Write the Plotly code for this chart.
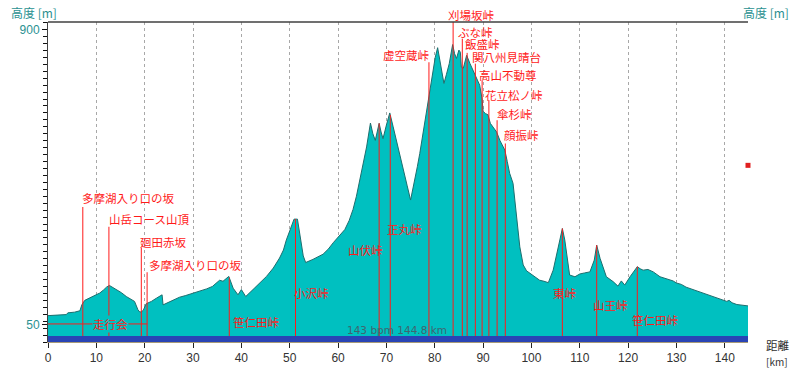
import numpy as np
import plotly.graph_objects as go

# ---- elevation profile (km, m) ----
dist_km = [0.0, 1.5, 3.0, 3.8, 4.1, 5.5, 6.6, 7.0, 7.6, 9.0, 10.0, 10.7, 11.5, 12.1, 12.7, 13.3,
           14.1, 15.2, 16.2, 17.2, 17.9, 18.6, 19.0, 19.4, 19.7, 20.3, 21.4, 22.4, 23.4, 23.6,
           23.8, 24.5, 25.8, 27.2, 28.5, 30.0, 31.5, 32.8, 34.0, 34.8, 35.5, 36.2, 36.8, 37.4,
           38.3, 39.3, 40.0, 40.5, 40.9, 42.4, 43.8, 45.2, 46.6, 47.9, 48.7, 49.3, 50.0, 50.6,
           50.9, 51.6, 52.2, 52.8, 53.3, 54.8, 56.9, 58.0, 59.0, 60.2, 61.4, 62.3,
           63.1, 63.8, 64.5, 65.2, 65.9, 66.7, 67.2, 67.7, 68.1, 68.5, 68.9, 69.3, 70.0, 70.7,
           71.4, 72.1, 72.8, 73.5, 74.3, 75.0, 75.5, 75.9, 76.4, 76.9, 77.4, 77.9, 78.4, 78.8,
           79.2, 79.7, 80.1, 80.6, 81.2, 81.9, 82.4, 83.0, 83.7, 84.1, 84.5, 85.0, 85.3, 85.5,
           85.9, 86.6, 87.3, 88.3, 89.3, 89.8, 90.0, 90.5, 91.0, 91.5, 92.1, 92.8, 93.5, 94.1,
           94.5, 95.0, 95.5, 96.2, 96.9, 97.6, 98.3, 99.0, 99.7, 100.7, 101.7, 102.6, 103.5,
           104.5, 105.7, 106.4, 106.9, 107.9, 109.0, 110.0, 111.0, 112.1, 113.0, 113.5, 114.2,
           115.5, 116.9, 117.9, 118.6, 119.3, 120.4, 121.9, 122.5, 123.1, 124.1, 125.2, 126.6,
           127.5, 128.6, 129.3, 130.0, 131.0, 132.0, 133.0, 134.2, 135.2, 136.2, 137.3, 138.3,
           139.4, 140.4, 140.9, 141.5, 142.5, 143.6, 144.8]
elev_m = [76, 77, 78, 79, 84, 86, 90, 107, 120, 129, 136, 141, 150, 158, 163, 158,
          151, 142, 131, 124, 117, 93, 86, 88, 91, 110, 117, 126, 133, 136,
          107, 112, 120, 129, 134, 141, 146, 153, 160, 170, 178, 175, 181, 189,
          155, 136, 151, 140, 131, 151, 170, 189, 213, 242, 265, 294, 320, 342,
          354, 354, 300, 248, 229, 238, 253, 268, 286, 305, 324, 350,
          382, 420, 466, 515, 562, 631, 600, 581, 605, 630, 605, 586, 625, 660,
          620, 581, 540, 495, 450, 409, 440, 466, 505, 543, 588, 630, 680, 716,
          750, 790, 820, 848, 800, 745, 770, 802, 857, 831, 817, 841, 835, 792,
          788, 826, 802, 773, 740, 700, 665, 658, 655, 630, 620, 605, 580, 562,
          553, 520, 486, 457, 370, 274, 222, 205, 198, 188, 178, 175, 171,
          207, 284, 327, 294, 193, 188, 196, 199, 202, 236, 279, 241,
          188, 174, 161, 176, 164, 188, 217, 211, 207, 209, 202, 188,
          184, 178, 176, 170, 166, 158, 153, 146, 141, 136, 131, 127,
          122, 117, 120, 113, 108, 106, 104]

# ---- named points (passes / slopes) ----
pt_names = ["多摩湖入り口の坂", "山岳コース山頂", "廻田赤坂", "多摩湖入り口の坂", "笹仁田峠",
            "小沢峠", "山伏峠", "正丸峠", "虚空蔵峠", "刈場坂峠", "ぶな峠", "飯盛峠",
            "関八州見晴台", "高山不動尊", "花立松ノ峠", "傘杉峠", "顔振峠",
            "東峠", "山王峠", "笹仁田峠"]
pt_km = [7.2, 12.6, 19.3, 20.5, 37.5, 51.2, 68.5, 70.8, 78.8, 83.8, 85.7, 86.7,
         88.4, 89.8, 91.2, 92.9, 94.6, 106.4, 113.5, 121.9]
# top of the marker line (m); None = up to the profile
pt_line_top = [389, 332, 271, 201, None, None, None, None, 806, 922, 874, 833,
               802, 754, 697, 639, 572, None, None, None]
# label placement (m) and anchoring
pt_label_y = [414, 353, 289, 222, 58, 140, 265, 327, 826, 943, 893, 860,
              821, 769, 711, 658, 596, 142, 107, 63]
pt_label_side = ["l", "l", "l", "l", "l", "l", "r", "l", "r", "l", "l", "l",
                 "l", "l", "l", "l", "l", "l", "l", "l"]
pt_label_dx = [-3, -2, -3, 0, 2, -4, 6, -5, 3, -7, -6, -4,
               -5, -5, -6, -2, -3, -11, -6, -7]

run_name = "走行会"
run_start_km, run_end_km, run_level_m = 0.0, 20.5, 52
run_label_km = 13.0
summary_text = "143 bpm 144.8 km"
summary_km, summary_m = 72.1, 34
hr_marker_m = 509
total_km = 144.8
y_top = 922

FILL = "#00c0c0"
RED = "#ff1a1a"
TEAL = "#2a9191"
FONT = "Noto Sans CJK JP"

PL, PR, PT, PB = 48.3, 748.0, 21.7, 342.0
def px(xp):
    return (xp - PL) / (PR - PL)
def py(yp):
    return (PB - yp) / (PB - PT)

fig = go.Figure()

fig.add_trace(go.Scatter(
    x=dist_km, y=elev_m, mode="lines", fill="tozeroy",
    fillcolor=FILL, line=dict(color="#1d6e6e", width=1), hoverinfo="skip",
    showlegend=False))

# marker lines
lx, ly = [], []
for k, top in zip(pt_km, pt_line_top):
    t = float(np.interp(k, dist_km, elev_m)) if top is None else top
    lx += [k, k, None]
    ly += [0, t, None]
lx += [run_start_km, run_end_km]
ly += [run_level_m, run_level_m]
fig.add_trace(go.Scatter(x=lx, y=ly, mode="lines", line=dict(color=RED, width=1),
                         hoverinfo="skip", showlegend=False, cliponaxis=False))

# heart-rate marker on right axis
fig.add_trace(go.Scatter(x=[total_km], y=[hr_marker_m], mode="markers",
                         marker=dict(symbol="square", size=5, color="#e02020"),
                         cliponaxis=False, hoverinfo="skip", showlegend=False))

ann = []
for name, k, yv, side, dx in zip(pt_names, pt_km, pt_label_y, pt_label_side, pt_label_dx):
    a = dict(x=k, xref="x", text=name, showarrow=False,
             xanchor="left" if side == "l" else "right", yanchor="middle",
             xshift=dx, font=dict(family=FONT, size=11.5, color=RED))
    if yv > y_top:
        a.update(yref="paper", y=yv / y_top)
    else:
        a.update(yref="y", y=yv)
    ann.append(a)
ann.append(dict(x=run_label_km, y=run_level_m, xref="x", yref="y",
                text=run_name, showarrow=False, bgcolor=FILL, borderpad=0,
                font=dict(family=FONT, size=11.5, color=RED)))
ann.append(dict(x=summary_km, y=summary_m, xref="x", yref="y", text=summary_text,
                showarrow=False,
                font=dict(family="DejaVu Sans", size=10.5, color="#3e6670")))

ann += [
    dict(x=px(9), y=py(12), xref="paper", yref="paper", text="高度 [m]", showarrow=False,
         xanchor="left", yanchor="middle", font=dict(family=FONT, size=12, color=TEAL)),
    dict(x=px(741), y=py(12), xref="paper", yref="paper", text="高度 [m]", showarrow=False,
         xanchor="left", yanchor="middle", font=dict(family=FONT, size=12, color=TEAL)),
    dict(x=px(765), y=py(345), xref="paper", yref="paper", text="距離", showarrow=False,
         xanchor="left", yanchor="middle", borderpad=0,
         font=dict(family=FONT, size=11.5, color="#303030")),
    dict(x=px(765), y=py(361.5), xref="paper", yref="paper", text="[km]", showarrow=False,
         xanchor="left", yanchor="middle", borderpad=0,
         font=dict(family=FONT, size=10, color="#303030")),
]

YR = [0, y_top]
minor_y = dict(tickmode="linear", tick0=0, dtick=20, ticks="outside", ticklen=4,
               tickcolor="#111111", showgrid=False)

fig.update_layout(
    width=800, height=368,
    margin=dict(l=48, r=52, t=22, b=26, autoexpand=False),
    paper_bgcolor="white", plot_bgcolor="white",
    showlegend=False,
    font=dict(family=FONT),
    xaxis=dict(range=[0, total_km], tickmode="linear", tick0=0, dtick=10,
               ticks="outside", ticklen=5, tickcolor="#222222",
               showgrid=True, gridcolor="#a8a8a8", griddash="dot", gridwidth=1,
               showline=True, linecolor="#a89a78", linewidth=1, zeroline=False,
               tickfont=dict(family="Liberation Sans", size=12, color="#333333")),
    yaxis=dict(range=YR, tickmode="array", tickvals=[50, 900], ticktext=["50", "900"],
               ticks="outside", ticklen=5, tickcolor="#111111", showgrid=False,
               showline=True, linecolor="#404040", linewidth=1, zeroline=False,
               minor=minor_y,
               tickfont=dict(family="Liberation Sans", size=12, color=TEAL)),
    yaxis2=dict(range=YR, overlaying="y", side="right", tickmode="array",
                tickvals=[50, 900], ticktext=["50", "900"], ticks="outside", ticklen=5,
                tickcolor="#111111", showgrid=False, showline=True, linecolor="#404040",
                linewidth=1, zeroline=False, minor=minor_y,
                tickfont=dict(family="Liberation Sans", size=12, color=TEAL)),
    yaxis3=dict(range=YR, overlaying="y", tickmode="linear", tick0=0, dtick=90,
                showgrid=True, gridcolor="#a8a8a8", griddash="dot", gridwidth=1,
                showticklabels=False, ticks="", showline=False, zeroline=False),
    annotations=ann,
    shapes=[
        dict(type="rect", xref="x", yref="y", x0=0, x1=total_km, y0=0, y1=17,
             fillcolor="#2944b5", line=dict(width=0), layer="above"),
        dict(type="line", xref="paper", yref="paper", x0=0, x1=1, y0=1, y1=1,
             line=dict(color="#404040", width=1.5)),
    ],
)

fig.write_html("out.html", config={"displayModeBar": False},
               post_script="document.body.style.margin='0';document.body.style.overflow='hidden';")
